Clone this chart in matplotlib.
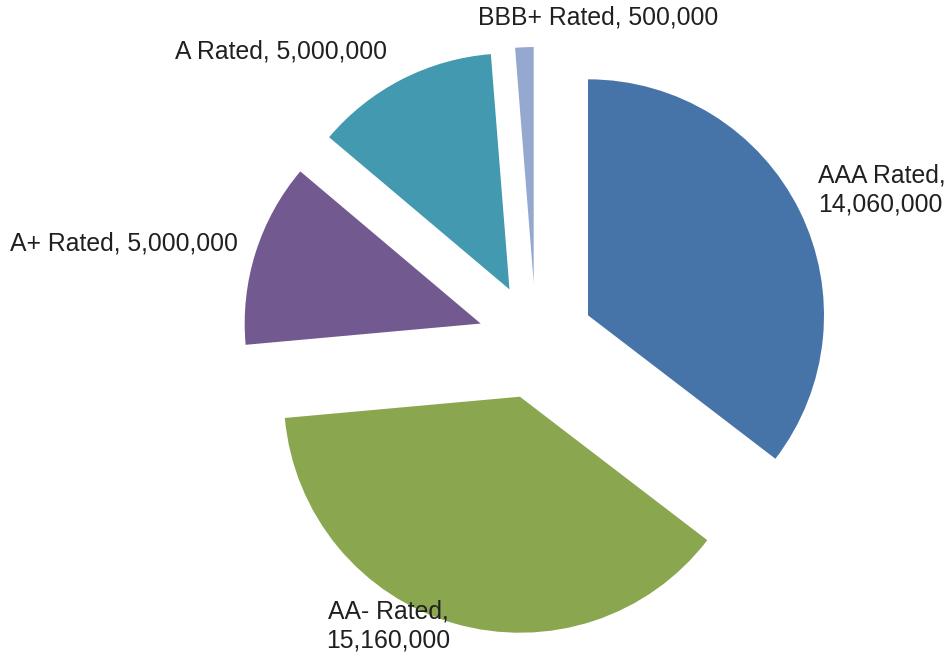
import numpy as np
import matplotlib
matplotlib.use("Agg")
from matplotlib import pyplot as plt

labels = ["AAA Rated", "AA- Rated", "A+ Rated", "A Rated", "BBB+ Rated"]
values = [14060000, 15160000, 5000000, 5000000, 500000]
colors = ["#4674A9", "#8AA64F", "#725990", "#4299B0", "#95A9D0"]

plt.rcParams["font.family"] = ["Liberation Sans", "DejaVu Sans"]

fig = plt.figure(figsize=(9.47, 6.61), dpi=100)
ax = fig.add_axes([0, 0, 1, 1])
ax.axis("off")

radius = 236
# matplotlib's explode offset is absolute (data units), not a fraction of radius
ax.pie(values, colors=colors, startangle=90, counterclock=False,
       radius=radius, center=(536, 320), explode=[58] * len(values),
       wedgeprops=dict(linewidth=0))
ax.set_xlim(0, 947)
ax.set_ylim(0, 661)
ax.set_aspect("equal")

# label text: "name, value"
texts = [f"{n}, {v:,}" for n, v in zip(labels, values)]
fs = 17.8
tc = "#202020"
ax.text(818, 661 - 190, texts[0].replace(", ", ",\n"), fontsize=fs, ha="left", va="center",
        color=tc, linespacing=1.3)
ax.text(388, 661 - 626, texts[1].replace(", ", ",\n"), fontsize=fs, ha="center", va="center",
        color=tc, linespacing=1.3)
ax.text(10, 661 - 244, texts[2], fontsize=fs, ha="left", va="center", color=tc)
ax.text(175, 661 - 52, texts[3], fontsize=fs, ha="left", va="center", color=tc)
ax.text(478, 661 - 18, texts[4], fontsize=fs, ha="left", va="center", color=tc)

fig.savefig("out.png", dpi=100)
